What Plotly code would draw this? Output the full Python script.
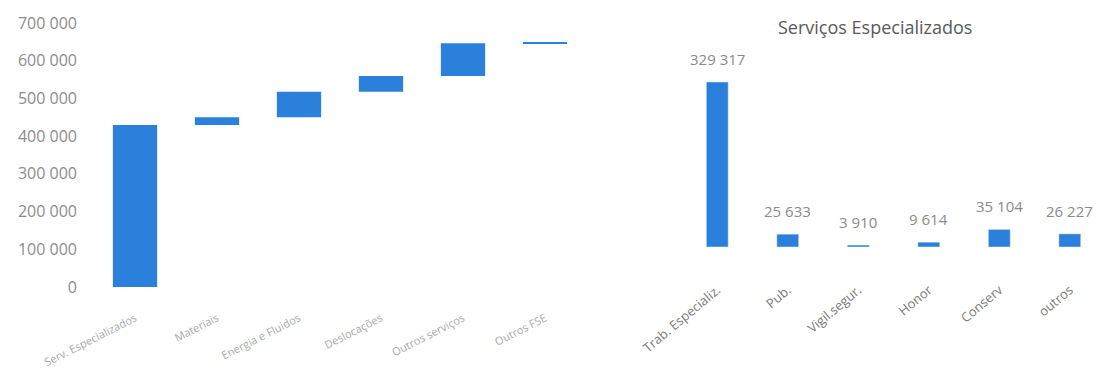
import plotly.graph_objects as go

# ---- data ----
fse_categories = ["Serv. Especializados", "Materiais", "Energia e Fluidos",
                  "Deslocações", "Outros serviços", "Outros FSE"]
fse_values = [429805, 20100, 67900, 41700, 86600, 1800]

serv_categories = ["Trab. Especializ.", "Pub.", "Vigil.segur.", "Honor",
                   "Conserv", "outros"]
serv_values = [329317, 25633, 3910, 9614, 35104, 26227]

left_ticks = [0, 100000, 200000, 300000, 400000, 500000, 600000, 700000]
title_right = "Serviços Especializados"

BLUE = "#2A80DA"
FONT = "Open Sans"
W, H = 1098, 369


def fmt(v):
    return f"{v:,}".replace(",", " ")


fig = go.Figure()

fig.add_trace(go.Waterfall(
    x=fse_categories, y=fse_values,
    measure=["relative"] * len(fse_values),
    increasing=dict(marker=dict(color=BLUE)),
    decreasing=dict(marker=dict(color=BLUE)),
    totals=dict(marker=dict(color=BLUE)),
    connector=dict(visible=False),
    textposition="none", hoverinfo="skip",
    xaxis="x", yaxis="y", showlegend=False,
))

fig.add_trace(go.Bar(
    x=list(range(len(serv_values))), y=serv_values,
    marker=dict(color=BLUE), width=0.31,
    xaxis="x2", yaxis="y2", showlegend=False, hoverinfo="skip",
))

annotations = []
for i, v in enumerate(serv_values):
    annotations.append(dict(
        x=i, y=v, xref="x2", yref="y2", text=fmt(v), showarrow=False,
        yshift=23, yanchor="middle",
        font=dict(family=FONT, size=15, color="#8a8a8a"),
    ))
annotations.append(dict(
    x=875 / W, y=(H - 27) / H, xref="paper", yref="paper", text=title_right,
    showarrow=False, xanchor="center", yanchor="middle",
    font=dict(family=FONT, size=18, color="#595959"),
))

fig.update_layout(
    width=W, height=H,
    margin=dict(l=0, r=0, t=0, b=0),
    paper_bgcolor="white", plot_bgcolor="white",
    separators=", ",
    font=dict(family=FONT),
    annotations=annotations,
    waterfallgap=0.46,
    xaxis=dict(
        domain=[94 / W, 586 / W], anchor="y", automargin=False,
        tickangle=-27, ticklabelstandoff=22,
        tickfont=dict(family=FONT, size=11, color="#a8a8a8"),
        showgrid=False, showline=False, zeroline=False, ticks="",
    ),
    yaxis=dict(
        domain=[(H - 287) / H, (H - 23) / H], anchor="x", automargin=False,
        range=[0, 700000], tickvals=left_ticks,
        ticktext=[fmt(t) for t in left_ticks],
        tickfont=dict(family=FONT, size=16, color="#8c8c8c"),
        ticklabelstandoff=16,
        showgrid=False, showline=False, zeroline=False, ticks="",
    ),
    xaxis2=dict(
        domain=[682 / W, 1.0], anchor="y2", automargin=False,
        range=[-0.5, 5.4],
        tickvals=list(range(len(serv_categories))), ticktext=serv_categories,
        tickangle=-40, ticklabelstandoff=32,
        tickfont=dict(family=FONT, size=13, color="#7a7a7a"),
        showgrid=False, showline=False, zeroline=False, ticks="",
    ),
    yaxis2=dict(
        domain=[(H - 247) / H, (H - 20) / H], anchor="x2", automargin=False,
        range=[0, 453000], visible=False,
    ),
)

fig.write_html("out.html")
